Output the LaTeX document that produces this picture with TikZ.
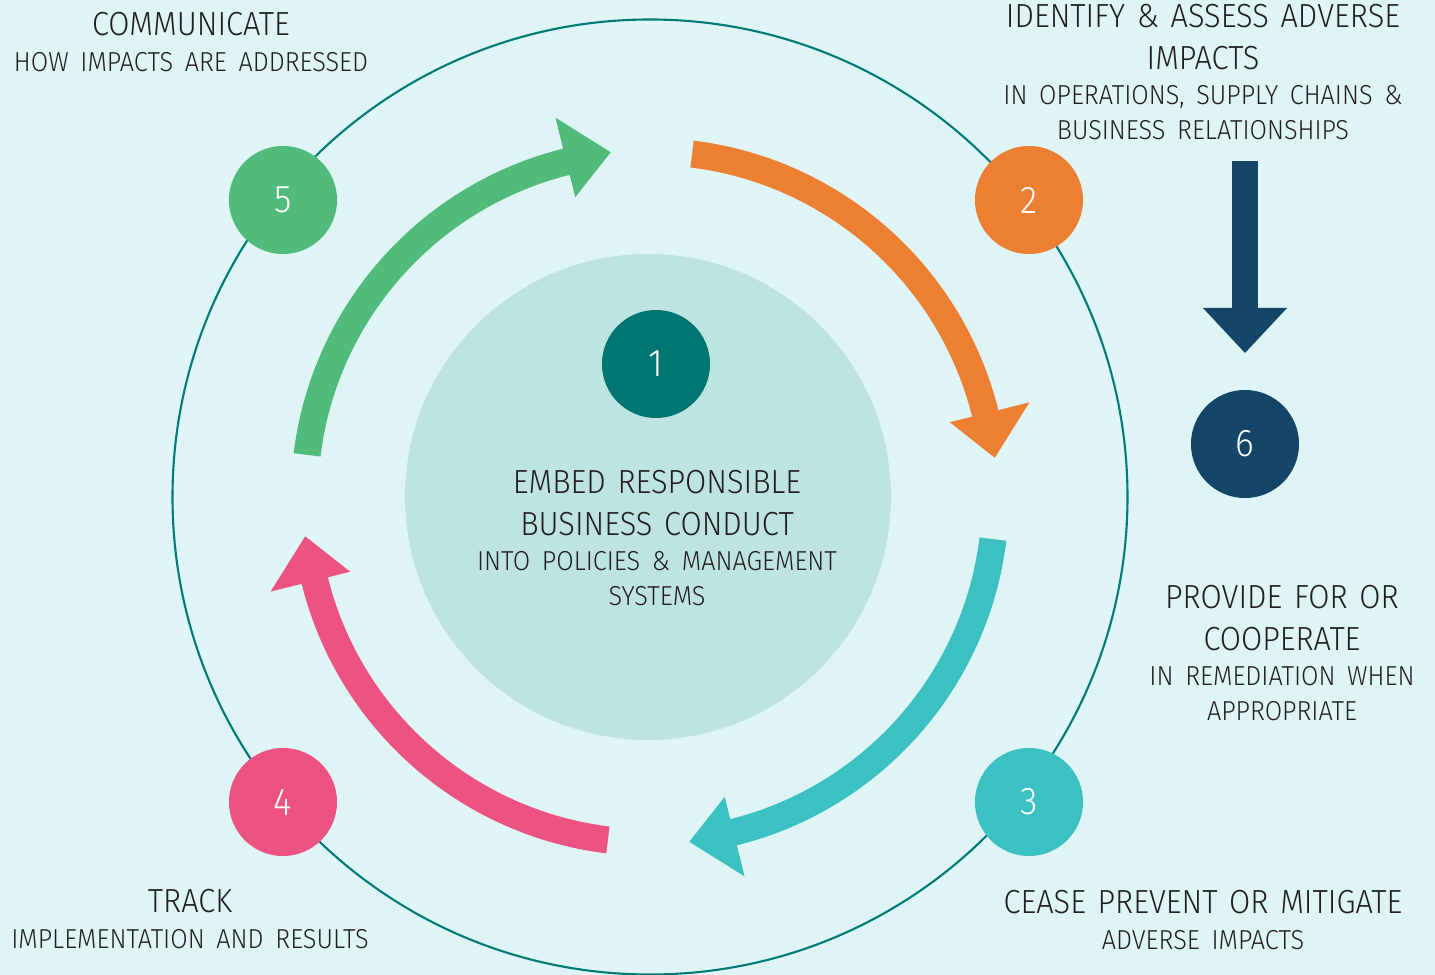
\documentclass[tikz,border=0pt]{standalone}
\usepackage{fontspec}
\setmainfont{Fira Sans Light}[FakeStretch=0.92, WordSpace=0.7]
\usepackage{tikz}
\usetikzlibrary{arrows.meta}

\definecolor{bgcol}{HTML}{DFF4F4}
\definecolor{ringcol}{HTML}{007B78}
\definecolor{diskcol}{HTML}{BDE4E1}
\definecolor{onecol}{HTML}{007672}
\definecolor{greencol}{HTML}{50BB7A}
\definecolor{orangecol}{HTML}{ED7F33}
\definecolor{cyancol}{HTML}{3CC1C2}
\definecolor{pinkcol}{HTML}{EC5380}
\definecolor{navycol}{HTML}{14466A}
\definecolor{inkcol}{HTML}{231F20}

\newcommand{\headfont}{\fontsize{9.5}{11.7}\selectfont}
\newcommand{\subfont}{\fontsize{7.8}{10}\selectfont}

\tikzset{
  numdot/.style={circle, minimum size=1.08cm, inner sep=0pt, text=white,
    font=\fontsize{11}{13}\selectfont},
  caption/.style={text width=4.8cm, align=center, anchor=north, inner sep=0pt,
    text=inkcol}
}

\begin{document}
\begin{tikzpicture}[x=0.01cm, y=0.01cm]
\useasboundingbox (0,0) rectangle (1435,975);
\fill [bgcol] (0,0) rectangle (1435,975);
\draw [ringcol, line width=0.6pt] (650,478) circle [radius=477.5];
\fill [diskcol] (648,478) circle [radius=243];
\begin{scope}[shift={(650,478)}]
\foreach \s/\c in {173/greencol, 83/orangecol, -7/cyancol, -97/pinkcol}
  \fill [\c] (\s:359) arc [start angle=\s, end angle=\s-69, radius=359]
    -- (\s-69:391) -- (\s-76.5:347) -- (\s-69:309) -- (\s-69:332)
    arc [start angle=\s-69, end angle=\s, radius=332] -- cycle;
\end{scope}
\node [numdot, fill=onecol] (n1) at (656,611) {1};
\node [numdot, fill=orangecol] (n2) at (1029,775) {2};
\node [numdot, fill=cyancol] (n3) at (1029,173) {3};
\node [numdot, fill=pinkcol] (n4) at (283,173) {4};
\node [numdot, fill=greencol] (n5) at (283,775) {5};
\node [numdot, fill=navycol] (n6) at (1245,531) {6};
\node [caption] (embed) at (657,505)
  {{\headfont EMBED RESPONSIBLE\\BUSINESS CONDUCT\par}
   {\subfont INTO POLICIES \& MANAGEMENT\\SYSTEMS\par}};
\node [caption] (identify) at (1203,971)
  {{\headfont IDENTIFY \& ASSESS ADVERSE\\IMPACTS\par}
   {\subfont IN OPERATIONS, SUPPLY CHAINS \&\\BUSINESS RELATIONSHIPS\par}};
\node [caption] (cease) at (1203,85)
  {{\headfont CEASE PREVENT OR MITIGATE\par}
   {\subfont ADVERSE IMPACTS\par}};
\node [caption] (track) at (190,86)
  {{\headfont TRACK\par}
   {\subfont IMPLEMENTATION AND RESULTS\par}};
\node [caption] (communicate) at (191,963)
  {{\headfont COMMUNICATE\par}
   {\subfont HOW IMPACTS ARE ADDRESSED\par}};
\node [caption] (remedy) at (1282,390)
  {{\headfont PROVIDE FOR OR\\COOPERATE\par}
   {\subfont IN REMEDIATION WHEN\\APPROPRIATE\par}};
\coordinate (down) at (1245,814);
\coordinate (downtip) at (1245,622);
\draw [navycol, line width=0.26cm,
  -{Triangle[width=0.84cm, length=0.45cm, line width=0pt]}] (down) -- (downtip);
\end{tikzpicture}
\end{document}
